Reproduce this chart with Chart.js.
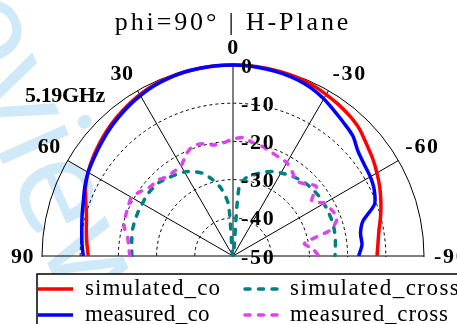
<!DOCTYPE html>
<html>
<head>
<meta charset="utf-8">
<script src="https://cdn.jsdelivr.net/npm/chart.js@4.4.0/dist/chart.umd.min.js"></script>
<style>
  html, body { margin: 0; padding: 0; background: #fff; overflow: hidden; }
  #wrap { width: 457px; height: 324px; overflow: hidden; }
  canvas { display: block; }
</style>
</head>
<body>
<div id="wrap"><canvas id="pattern" width="457" height="520"></canvas></div>
<script>
// ----------------- Data -----------------
// theta in degrees, +90 on the left, -90 on the right
const thetaDeg = [90, 85, 80, 75, 70, 65, 60, 55, 50, 45, 40, 35, 30, 25, 20, 15, 10, 5, 0,
  -5, -10, -15, -20, -25, -30, -35, -40, -45, -50, -55, -60, -65, -70, -75, -80, -85, -90];

const simulatedCo = [-12.1, -11.6, -11.0, -10.3, -9.0, -7.4, -6.2, -5.2, -4.3, -3.4, -2.6, -1.9, -1.2, -0.7, -0.4, -0.2, -0.1, 0, 0,
  0, -0.1, -0.2, -0.4, -0.7, -1.2, -1.7, -2.3, -3.1, -4.4, -5.4, -6.5, -7.6, -8.8, -10.0, -11.2, -11.9, -12.3];

const measuredCo = [-10.8, -10.3, -9.8, -9.1, -8.3, -7.2, -6.2, -5.5, -4.7, -3.8, -3.0, -2.2, -1.5, -0.9, -0.5, -0.2, -0.1, 0, 0,
  -0.1, -0.3, -0.5, -0.9, -1.5, -2.5, -3.7, -4.7, -5.6, -7.3, -8.1, -8.5, -9.2, -10.6, -14.8, -16.1, -16.1, -17.1];

const simulatedCross = [-23.5, -23.4, -23.1, -22.8, -22.7, -22.6, -22.6, -22.4, -22.5, -22.7, -23.4, -24.0, -24.6, -25.6, -27.0, -29.3, -32.0, -36.5, -50,
  -32.0, -29.0, -27.9, -26.6, -25.6, -24.9, -24.2, -23.6, -23.1, -22.8, -22.6, -22.5, -22.5, -22.5, -22.6, -22.8, -23.1, -23.3];

const measuredCross = [-23.0, -22.6, -22.0, -20.5, -20.0, -19.7, -19.3, -20.5, -21.8, -21.9, -23.0, -23.0, -22.8, -20.8, -19.3, -19.6, -20.5, -20.3, -19.4,
  -18.9, -19.9, -20.3, -21.0, -21.5, -21.8, -23.0, -24.3, -23.3, -21.6, -24.8, -22.4, -21.5, -21.0, -23.5, -31.0, -29.0, -27.5];

const angleTicks = [90, 60, 30, 0, -30, -60, -90];
const titleText = 'phi=90° | H-Plane';
const freqText = '5.19GHz';
const legendOrder = ['simulated_co', 'simulated_cross', 'measured_co', 'measured_cross'];

// ----------------- Radar slots (5 deg, clockwise from top) -----------------
const slotAngles = [];
for (let i = 0; i < 72; i++) {
  let a = -5 * i;
  if (a <= -180) a += 360;
  slotAngles.push(a);
}
const toSlots = vals => slotAngles.map(a => {
  const k = thetaDeg.indexOf(a);
  return k < 0 ? null : vals[k];
});

// ----------------- Text helper -----------------
// serif text spread out to a fixed cell width per character (looks like the original mono serif)
const SERIF = '"Liberation Serif", "DejaVu Serif", serif';
function cellText(ctx, txt, x, y, px, bold, cell, align, baseline) {
  ctx.save();
  ctx.font = (bold ? 'bold ' : '') + px + 'px ' + SERIF;
  ctx.textBaseline = baseline || 'alphabetic';
  ctx.fillStyle = '#000';
  const natural = ctx.measureText(txt).width;
  const target = cell * txt.length;
  let sx = 1;
  if ('letterSpacing' in ctx) {
    ctx.letterSpacing = ((target - natural) / txt.length).toFixed(2) + 'px';
  } else {
    sx = target / natural;
  }
  let left = x;
  if (align === 'center') left = x - target / 2;
  else if (align === 'right') left = x - target;
  ctx.textAlign = 'left';
  ctx.translate(left, y);
  ctx.scale(sx, 1);
  ctx.fillText(txt, 0, 0);
  ctx.restore();
}

// ----------------- Decorations plugin -----------------
const polarDecor = {
  id: 'polarDecor',
  beforeDraw(chart) {
    const ctx = chart.ctx;
    const r = chart.scales.r;
    ctx.save();
    ctx.fillStyle = '#fff';
    ctx.fillRect(0, 0, chart.width, chart.height);
    // faint watermark
    ctx.translate(-120, -112);
    ctx.rotate(66 * Math.PI / 180);
    ctx.font = '135px "Open Sans"';
    ctx.fillStyle = '#cfe9f8';
    ctx.fillText('Preview', 0, 0);
    ctx.restore();
    // keep only the upper half of the polar plot
    ctx.save();
    ctx.beginPath();
    ctx.rect(0, 0, chart.width, r.yCenter + 1);
    ctx.clip();
  },
  afterDraw(chart) {
    const ctx = chart.ctx;
    const r = chart.scales.r;
    ctx.restore();

    // radial tick labels along the 0 deg axis
    r.ticks.forEach(t => {
      const d = r.getDistanceFromCenterForValue(t.value);
      cellText(ctx, String(t.value), r.xCenter + 8, r.yCenter - d + 2, 22, true, 11.5, 'left', 'middle');
    });

    // angle labels, anchored just outside the outer circle
    angleTicks.forEach(a => {
      const idx = slotAngles.indexOf(a);
      const p = r.getPointPosition(idx, r.drawingArea + 8);
      const align = a > 0 ? 'right' : (a < 0 ? 'left' : 'center');
      if (Math.abs(a) === 90) {
        cellText(ctx, String(a), p.x + (a < 0 ? 2 : 0), p.y + 1, 22, true, 11.5, align, 'middle');
      } else {
        cellText(ctx, String(a), p.x, p.y - 3.5, 22, true, 11.5, align, 'alphabetic');
      }
    });

    // title and frequency
    cellText(ctx, titleText, 233, 30, 26, false, 13.9, 'center', 'alphabetic');
    cellText(ctx, freqText, 25, 102, 22, true, 11.4, 'left', 'alphabetic');

    // legend
    ctx.save();
    ctx.fillStyle = '#fff';
    ctx.fillRect(37, 274, 440, 70);
    ctx.strokeStyle = '#000';
    ctx.lineWidth = 1.5;
    ctx.strokeRect(37, 274, 440, 70);
    ctx.restore();
    const cols = [38, 243];
    const rows = [289, 315];
    legendOrder.forEach((name, i) => {
      const ds = chart.data.datasets.find(d => d.label === name);
      const x = cols[i % 2];
      const y = rows[Math.floor(i / 2)];
      ctx.save();
      ctx.strokeStyle = ds.borderColor;
      ctx.lineWidth = ds.borderWidth;
      ctx.lineCap = ds.borderDash ? 'round' : 'butt';
      ctx.setLineDash(ds.borderDash || []);
      ctx.beginPath();
      ctx.moveTo(x + (ds.borderDash ? 2 : 0), y);
      ctx.lineTo(x + 35, y);
      ctx.stroke();
      ctx.restore();
      cellText(ctx, name, x + 47, y + 6, 23, false, 11.35, 'left', 'alphabetic');
    });
  }
};

// ----------------- Chart Setup -----------------
const ctx = document.getElementById('pattern').getContext('2d');
new Chart(ctx, {
  type: 'radar',
  data: {
    labels: slotAngles,
    datasets: [
      { label: 'measured_co', data: toSlots(measuredCo), borderColor: '#0000ff', borderWidth: 3.5, fill: false, order: 0 },
      { label: 'simulated_co', data: toSlots(simulatedCo), borderColor: '#ff0000', borderWidth: 3.5, fill: false, order: 1 },
      { label: 'measured_cross', data: toSlots(measuredCross), borderColor: '#dd44f0', borderWidth: 3.5, borderDash: [5, 8.5],
        borderCapStyle: 'round', fill: false, order: 2 },
      { label: 'simulated_cross', data: toSlots(simulatedCross), borderColor: '#008080', borderWidth: 3.5, borderDash: [5, 8.5],
        borderCapStyle: 'round', fill: false, order: 3 }
    ]
  },
  options: {
    responsive: false,
    animation: false,
    spanGaps: false,
    layout: { padding: { left: 42, right: 33, top: 65, bottom: 73 } },
    elements: {
      point: { radius: 0, hitRadius: 0, hoverRadius: 0 },
      line: { tension: 0.25 }
    },
    plugins: {
      legend: { display: false },
      title: { display: false },
      tooltip: { enabled: false }
    },
    scales: {
      r: {
        min: -50,
        max: 0,
        startAngle: 0,
        ticks: { display: false, stepSize: 10 },
        pointLabels: { display: false },
        grid: { circular: true, color: '#000', lineWidth: 1 },
        border: { dash: c => (c.tick && c.tick.value === 0) ? [] : [3, 3] },
        angleLines: {
          display: true,
          color: '#000',
          lineWidth: c => angleTicks.includes(slotAngles[c.index]) ? 1 : 0
        }
      }
    }
  },
  plugins: [polarDecor]
});
</script>
</body>
</html>
